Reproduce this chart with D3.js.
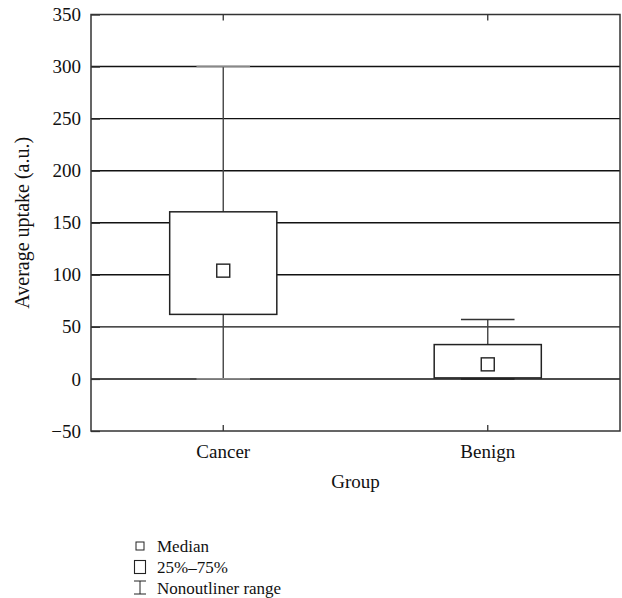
<!DOCTYPE html>
<html><head><meta charset="utf-8">
<script src="https://cdn.jsdelivr.net/npm/d3@7"></script>
<style>body{margin:0;background:#fff}svg{display:block}text{font-family:"Liberation Serif","DejaVu Serif",serif;fill:#111}</style>
</head><body>
<script>
const categories = ["Cancer", "Benign"];
const minVals = [0, 0];
const q1Vals = [62, 1];
const medianVals = [104, 14];
const q3Vals = [160.5, 33];
const maxVals = [300, 57];
const yTicks = [-50, 0, 50, 100, 150, 200, 250, 300, 350];
const legendItems = ["Median", "25%\u201375%", "Nonoutliner range"];

const W = 622, H = 598;
const L = 91, R = 620, T = 14.5, B = 431;
const svg = d3.select("body").append("svg").attr("width", W).attr("height", H);

const x = d3.scaleBand().domain(categories).range([L, R]).padding(0);
const y = d3.scaleLinear().domain([-50, 350]).range([B, T]);
const fmt = d3.format("");
const fs = 19;

// gridlines
svg.append("g").selectAll("line").data(yTicks.filter(d => d > -50 && d < 350)).join("line")
  .attr("x1", L).attr("x2", R).attr("y1", d => y(d)).attr("y2", d => y(d))
  .attr("stroke", "#111").attr("stroke-width", 1.4);

// y axis with inward ticks
const yAxis = svg.append("g").attr("transform", `translate(${L},0)`)
  .call(d3.axisLeft(y).tickValues(yTicks).tickSize(-9).tickPadding(10).tickFormat(fmt));
yAxis.select(".domain").remove();
yAxis.selectAll(".tick line").attr("stroke", "#333").attr("stroke-width", 1.3);
yAxis.selectAll(".tick text").attr("font-size", fs).attr("fill", "#111")
  .style("font-family", '"Liberation Serif", serif');

// x axis bottom (inward ticks)
const xAxisB = svg.append("g").attr("transform", `translate(0,${B})`)
  .call(d3.axisBottom(x).tickSize(-6).tickPadding(14));
xAxisB.select(".domain").remove();
xAxisB.selectAll(".tick line").attr("stroke", "#333").attr("stroke-width", 1.3);
xAxisB.selectAll(".tick text").attr("font-size", fs).attr("fill", "#111")
  .style("font-family", '"Liberation Serif", serif');
// x axis top ticks
const xAxisT = svg.append("g").attr("transform", `translate(0,${T})`)
  .call(d3.axisTop(x).tickSize(-6).tickFormat(""));
xAxisT.select(".domain").remove();
xAxisT.selectAll(".tick line").attr("stroke", "#333").attr("stroke-width", 1.3);

// frame
svg.append("rect").attr("x", L).attr("y", T).attr("width", R - L).attr("height", B - T)
  .attr("fill", "none").attr("stroke", "#333").attr("stroke-width", 1.5);

// boxes
const bw = x.bandwidth() * 0.405;
const cw = bw * 0.5;
const data = categories.map((c, i) => ({c, min: minVals[i], q1: q1Vals[i], med: medianVals[i], q3: q3Vals[i], max: maxVals[i]}));
const g = svg.append("g");
const cx = d => x(d.c) + x.bandwidth() / 2;
g.selectAll(".wu").data(data).join("line")
  .attr("x1", cx).attr("x2", cx).attr("y1", d => y(d.max)).attr("y2", d => y(d.q3))
  .attr("stroke", "#444").attr("stroke-width", 1.4);
g.selectAll(".wl").data(data).join("line")
  .attr("x1", cx).attr("x2", cx).attr("y1", d => y(d.q1)).attr("y2", d => y(d.min))
  .attr("stroke", "#444").attr("stroke-width", 1.4);
g.selectAll(".cu").data(data).join("line")
  .attr("x1", d => cx(d) - cw / 2).attr("x2", d => cx(d) + cw / 2)
  .attr("y1", d => y(d.max)).attr("y2", d => y(d.max))
  .attr("stroke", (d, i) => i === 0 ? "#888" : "#333").attr("stroke-width", 1.5);
g.selectAll(".cl").data(data).join("line")
  .attr("x1", d => cx(d) - cw / 2).attr("x2", d => cx(d) + cw / 2)
  .attr("y1", d => y(d.min)).attr("y2", d => y(d.min))
  .attr("stroke", (d, i) => i === 0 ? "#888" : "#222").attr("stroke-width", 1.7);
g.selectAll(".box").data(data).join("rect")
  .attr("x", d => cx(d) - bw / 2).attr("width", bw)
  .attr("y", d => y(d.q3)).attr("height", d => y(d.q1) - y(d.q3))
  .attr("fill", "#fff").attr("stroke", "#222").attr("stroke-width", 1.5);
const ms = 13;
g.selectAll(".med").data(data).join("rect")
  .attr("x", d => cx(d) - ms / 2).attr("width", ms)
  .attr("y", d => y(d.med) - ms / 2).attr("height", ms)
  .attr("fill", "#fff").attr("stroke", "#222").attr("stroke-width", 1.4);

// axis titles
svg.append("text").attr("x", (L + R) / 2).attr("y", 488).attr("text-anchor", "middle")
  .attr("font-size", fs).text("Group");
svg.append("text").attr("transform", `translate(29,${(T + B) / 2}) rotate(-90)`)
  .attr("text-anchor", "middle").attr("font-size", fs + 1).text("Average uptake (a.u.)");

// legend
const lfs = 17;
const lg = svg.append("g");
const rows = [552, 573, 594];
legendItems.forEach((t, i) => {
  lg.append("text").attr("x", 157).attr("y", rows[i]).attr("font-size", lfs).text(t);
});
const ic = 140;
lg.append("rect").attr("x", ic - 4).attr("y", rows[0] - 10).attr("width", 8).attr("height", 8)
  .attr("fill", "#fff").attr("stroke", "#222").attr("stroke-width", 1);
lg.append("rect").attr("x", ic - 5.5).attr("y", rows[1] - 12.5).attr("width", 11).attr("height", 13)
  .attr("fill", "#fff").attr("stroke", "#222").attr("stroke-width", 1.1);
const wy0 = rows[2] - 13, wy1 = rows[2];
lg.append("line").attr("x1", ic).attr("x2", ic).attr("y1", wy0).attr("y2", wy1).attr("stroke", "#222").attr("stroke-width", 1);
lg.append("line").attr("x1", ic - 6).attr("x2", ic + 6).attr("y1", wy0).attr("y2", wy0).attr("stroke", "#222").attr("stroke-width", 1);
lg.append("line").attr("x1", ic - 6).attr("x2", ic + 6).attr("y1", wy1).attr("y2", wy1).attr("stroke", "#222").attr("stroke-width", 1);
</script>
</body></html>
